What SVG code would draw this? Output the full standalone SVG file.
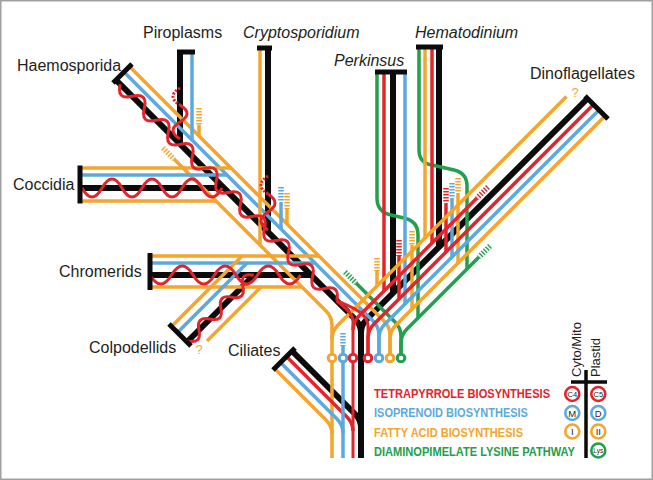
<svg xmlns="http://www.w3.org/2000/svg" width="653" height="480" viewBox="0 0 653 480">
<style>
.k{stroke:#0b0b0b;stroke-width:6;fill:none;stroke-linejoin:round}
.cap{stroke:#0b0b0b;stroke-width:5;fill:none}
.r{stroke:#e3242b;stroke-width:3.5;fill:none;stroke-linejoin:round}
.b{stroke:#5da9de;stroke-width:3.5;fill:none;stroke-linejoin:round}
.o{stroke:#f5a52b;stroke-width:3.5;fill:none;stroke-linejoin:round}
.g{stroke:#22a04b;stroke-width:3.5;fill:none;stroke-linejoin:round}
.d{stroke-width:5.5;stroke-dasharray:1.4 1.6;fill:none}
.dr{stroke:#e3242b}.db{stroke:#5da9de}.do{stroke:#f5a52b}.dg{stroke:#22a04b}
.wv{stroke:#e3242b;stroke-width:3;fill:none}
.wvd{stroke:#e3242b;stroke-width:3;fill:none;stroke-dasharray:2 1.6}
.st{fill:#fff;stroke-width:3}
.lbl{font-family:"Liberation Sans",Arial,sans-serif;font-size:16px;fill:#231f20}
.it{font-style:italic}
.lg{font-family:"Liberation Sans",Arial,sans-serif;font-size:12.5px;font-weight:bold}
.cl{font-family:"Liberation Sans",Arial,sans-serif;fill:#231f20;text-anchor:middle}
</style>
<rect x="0.75" y="0.75" width="651.5" height="478.5" fill="#fff" stroke="#a0a0a0" stroke-width="1.5"/>

<g id="connectors">
  <!-- black lineage lines -->
  <path class="k" d="M116,80 L355,319 Q361,325 361,333 V458"/>
  <path class="k" d="M587.5,98.5 L367,319 Q361,325 361,333"/>
  <path class="k" d="M439,47 V247"/>
  <path class="k" d="M393,72 V293"/>
  <path class="k" d="M180,52 V144"/>
  <path class="k" d="M80,188 H224"/>
  <path class="k" d="M268,48 V232"/>
  <path class="k" d="M150,275 H311"/>
  <path class="k" d="M187,342 L254,275"/>
  <path class="k" d="M292,351 L355,414 Q361,420 361,428"/>

  <!-- apicomplexan trunk colours -->
  <path class="b" d="M124,72 L373,321 Q379,327 379,335 V358"/>
  <path class="o" d="M129.5,66.5 L384,321 Q390,327 390,335 V358"/>
  <path class="d do" d="M163,148 L174,159"/>
  <path class="o" d="M174,159 L326,311 Q332,317 332,325 V458"/>
  <path class="d dg" d="M345,272 L356,283"/>
  <path class="g" d="M356,283 L395,322 Q401,328 401,336 V358"/>

  <!-- Piroplasms -->
  <path class="b" d="M192,52 V140"/>
  <path class="d do" d="M199,108 V125"/>
  <path class="o" d="M199,125 V136"/>

  <!-- Coccidia -->
  <path class="o" d="M80,168 H231"/>
  <path class="b" d="M80,175 H227"/>
  <path class="o" d="M80,201 H216"/>

  <!-- Cryptosporidium -->
  <path class="o" d="M260,48 V245"/>
  <path class="d db" d="M281,187 V202"/>
  <path class="b" d="M281,202 V229"/>
  <path class="d do" d="M287,193 V209"/>
  <path class="o" d="M287,209 V224"/>

  <!-- Chromerids -->
  <path class="o" d="M150,256 H319"/>
  <path class="b" d="M150,263 H315"/>
  <path class="o" d="M150,287 H302"/>

  <!-- Colpodellids -->
  <path class="o" d="M171.5,326.5 L242,256"/>
  <path class="b" d="M177.5,332.5 L247,263"/>
  <path class="o" d="M207,341 L261,287"/>

  <!-- Ciliates -->
  <path class="r" d="M286.5,356.5 L347,417 Q353,423 353,431"/>
  <path class="b" d="M280.5,362.5 L337,419 Q343,425 343,433"/>
  <path class="o" d="M274.5,368.5 L326,420 Q332,426 332,434"/>

  <!-- Perkinsus -->
  <path class="g" d="M377,72 V198 Q377,212 391,215 L404,218 Q418,221 418,235 V318"/>
  <path class="r" d="M384,72 V291"/>
  <path class="b" d="M405,72 V304"/>
  <path class="d dr" d="M399,240 V256"/>
  <path class="r" d="M399,256 V299"/>
  <path class="d do" d="M412,231 V245"/>
  <path class="o" d="M412,245 V309"/>
  <path class="d do" d="M377,258 V271"/>
  <path class="o" d="M377,271 V286"/>

  <!-- Hematodinium -->
  <path class="g" d="M419,47 V150 Q419,163 432,165 L454,170 Q467,173 467,186 V269"/>
  <path class="o" d="M425,47 V238"/>
  <path class="r" d="M432,47 V243"/>
  <path class="d dr" d="M446,188 V203"/>
  <path class="r" d="M446,203 V252"/>
  <path class="d db" d="M452,183 V198"/>
  <path class="b" d="M452,198 V257"/>
  <path class="d do" d="M458,178 V193"/>
  <path class="o" d="M458,193 V263"/>

  <!-- Dinoflagellate trunk colours -->
  <path class="o" d="M566.5,96.5 L338,325 Q332,331 332,339"/>
  <path class="d dr" d="M488,187 L477,198"/>
  <path class="r" d="M477,198 L359,316 Q353,322 353,330"/>
  <path class="r" d="M593.5,104.5 L374,324 Q368,330 368,338 V358"/>
  <path class="b" d="M599,110 L385,324 Q379,330 379,338 V358"/>
  <path class="o" d="M605,116 L396,325 Q390,331 390,339 V358"/>
  <path class="d dg" d="M490,246 L479,257"/>
  <path class="g" d="M479,257 L407,329 Q401,335 401,343 V358"/>

  <!-- central cyto/mito verticals -->
  <path class="d db" d="M343,333 V346"/>
  <path class="b" d="M343,346 V458"/>

  <!-- red helix (tetrapyrrole) waves -->
  <g transform="translate(116,80) rotate(45)">
    <path class="wv" d="M6,0 Q14.5,14 23,0 T40,0 T57,0 T74,0 T91,0 T108,0 T125,0 T142,0 T159,0 T176,0 T193,0 T210,0 T227,0 T244,0 T261,0 T278,0 T295,0 T312,0"/>
  </g>
  <path class="wv" d="M336.6,300.6 C343,307 353,312 353,322 V458"/>
  <path class="wv" d="M336.6,300.6 C348,306 368,312 368,326 V358"/>
  <g transform="translate(180,88) rotate(90)">
    <path class="wvd" d="M0,0 Q8.5,14 17,0"/>
    <path class="wv" d="M17,0 Q25.5,-14 34,0 T51,0"/>
  </g>
  <path class="wv" d="M82,188 Q92,206 102,188 T122,188 T142,188 T162,188 T182,188 T202,188 T222,188"/>
  <g transform="translate(268,176) rotate(90)">
    <path class="wvd" d="M0,0 Q9,14 18,0"/>
    <path class="wv" d="M18,0 Q27,-14 36,0 T54,0"/>
  </g>
  <path class="wv" d="M150,275 Q160.75,293 171.5,275 T193,275 T214.5,275 T236,275 T257.5,275 T279,275 T300.5,275"/>
  <g transform="translate(188,341) rotate(-45)">
    <path class="wv" d="M0,0 Q7.75,12 15.5,0 T31,0 T46.5,0 T62,0 T77.5,0 T93,0"/>
  </g>
</g>

<g id="stations">
  <circle class="st" cx="332" cy="358" r="3.8" stroke="#f5a52b"/>
  <circle class="st" cx="343" cy="358" r="3.8" stroke="#5da9de"/>
  <circle class="st" cx="353" cy="358" r="3.8" stroke="#e3242b"/>
  <circle class="st" cx="368" cy="358" r="3.8" stroke="#e3242b"/>
  <circle class="st" cx="379" cy="358" r="3.8" stroke="#5da9de"/>
  <circle class="st" cx="390" cy="358" r="3.8" stroke="#f5a52b"/>
  <circle class="st" cx="401" cy="358" r="3.8" stroke="#22a04b"/>
</g>

<g id="haemosporida">
  <path class="cap" d="M113,83 L132,64"/>
  <text class="lbl" x="17" y="71">Haemosporida</text>
</g>
<g id="piroplasms">
  <path class="cap" d="M177,52 H195"/>
  <text class="lbl" x="143" y="38">Piroplasms</text>
</g>
<g id="cryptosporidium">
  <path class="cap" d="M257,48 H272"/>
  <text class="lbl it" x="243" y="38">Cryptosporidium</text>
</g>
<g id="coccidia">
  <path class="cap" d="M80,165.5 V203.5"/>
  <text class="lbl" x="13" y="190">Coccidia</text>
</g>
<g id="chromerids">
  <path class="cap" d="M150,253 V290"/>
  <text class="lbl" x="59" y="277">Chromerids</text>
</g>
<g id="colpodellids">
  <path class="cap" d="M169,324 L191,346"/>
  <text class="lbl" x="89" y="353">Colpodellids</text>
  <text class="lbl" x="199" y="354" text-anchor="middle" style="fill:#f5a52b;font-size:13px">?</text>
</g>
<g id="ciliates">
  <path class="cap" d="M273,370 L295,348"/>
  <text class="lbl" x="228" y="356">Ciliates</text>
</g>
<g id="perkinsus">
  <path class="cap" d="M375,72 H407"/>
  <text class="lbl it" x="334" y="66">Perkinsus</text>
</g>
<g id="hematodinium">
  <path class="cap" d="M416,47 H443"/>
  <text class="lbl it" x="415" y="38">Hematodinium</text>
</g>
<g id="dinoflagellates">
  <path class="cap" d="M585,96 L608,119"/>
  <text class="lbl" x="530" y="79">Dinoflagellates</text>
  <text class="lbl" x="575" y="97" text-anchor="middle" style="fill:#f5a52b;font-size:13px">?</text>
</g>

<g id="legend">
  <text class="lg" transform="translate(374,398) scale(0.86,1)" fill="#e3242b" textLength="204.7" lengthAdjust="spacingAndGlyphs">TETRAPYRROLE BIOSYNTHESIS</text>
  <text class="lg" transform="translate(374,417) scale(0.86,1)" fill="#5da9de" textLength="179" lengthAdjust="spacingAndGlyphs">ISOPRENOID BIOSYNTHESIS</text>
  <text class="lg" transform="translate(374,436.5) scale(0.86,1)" fill="#f5a52b" textLength="173.3" lengthAdjust="spacingAndGlyphs">FATTY ACID BIOSYNTHESIS</text>
  <text class="lg" transform="translate(374,456) scale(0.86,1)" fill="#22a04b" textLength="233.7" lengthAdjust="spacingAndGlyphs">DIAMINOPIMELATE LYSINE PATHWAY</text>
  <text class="lbl" transform="translate(580.5,377) rotate(-90)" style="font-size:13px">Cyto/Mito</text>
  <text class="lbl" transform="translate(600,377) rotate(-90)" style="font-size:13px">Plastid</text>
  <path d="M571,382 H607 M586,370 V458" stroke="#0b0b0b" stroke-width="3.5" fill="none"/>
  <g stroke-width="2.6" fill="#fff">
    <circle cx="572.3" cy="394" r="7" stroke="#e3242b"/>
    <circle cx="598.3" cy="394" r="7" stroke="#e3242b"/>
    <circle cx="572.3" cy="413" r="7" stroke="#5da9de"/>
    <circle cx="598.3" cy="413" r="7" stroke="#5da9de"/>
    <circle cx="572.3" cy="431.5" r="7" stroke="#f5a52b"/>
    <circle cx="598.3" cy="431.5" r="7" stroke="#f5a52b"/>
    <circle cx="598.3" cy="450.5" r="7" stroke="#22a04b"/>
  </g>
  <text class="cl" x="572.3" y="396.7" style="font-size:7.5px">C4</text>
  <text class="cl" x="598.3" y="396.7" style="font-size:7.5px">C5</text>
  <text class="cl" x="572.3" y="416.5" style="font-size:9.5px">M</text>
  <text class="cl" x="598.3" y="416.5" style="font-size:9.5px">D</text>
  <text class="cl" x="572.3" y="435" style="font-size:9.5px">I</text>
  <text class="cl" x="598.3" y="435" style="font-size:9.5px">II</text>
  <text class="cl" x="598.3" y="453" style="font-size:6.5px">Lys</text>
</g>
</svg>
